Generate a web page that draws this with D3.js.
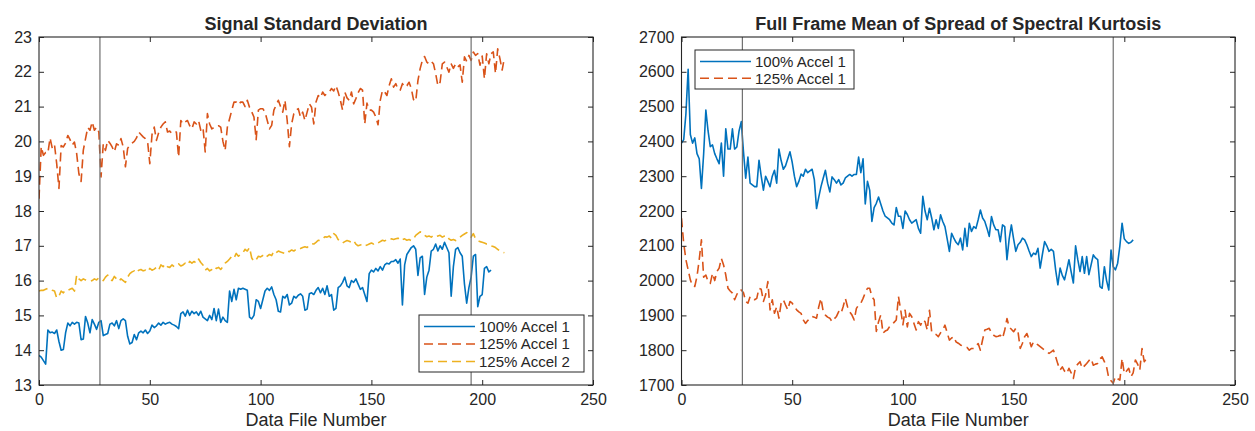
<!DOCTYPE html>
<html>
<head>
<meta charset="utf-8">
<script src="https://cdn.jsdelivr.net/npm/d3@7"></script>
<style>
    body { margin: 0; background: #fff; }
    text { font-family: "Liberation Sans", Arial, Helvetica, sans-serif; fill: #262626; }
</style>
</head>
<body>
<svg id="chart" width="1255" height="431"></svg>
<script>
const std100Accel1 = [
    13.85, 13.80, 13.70, 13.60, 14.58, 14.50, 14.52, 14.48, 14.58, 14.25,
    14.00, 14.02, 14.50, 14.78, 14.70, 14.80, 14.75, 14.80, 14.78, 14.30,
    14.32, 14.97, 14.78, 14.50, 14.88, 14.75, 14.60, 14.80, 14.85, 14.42,
    14.45, 14.48, 14.75, 14.78, 14.70, 14.85, 14.62, 14.85, 14.90, 14.85,
    14.40, 14.18, 14.22, 14.45, 14.30, 14.50, 14.55, 14.50, 14.58, 14.48,
    14.55, 14.72, 14.65, 14.70, 14.78, 14.72, 14.80, 14.75, 14.78, 14.80,
    14.75, 14.72, 14.68, 14.62, 15.05, 15.10, 14.98, 15.15, 15.00, 15.12,
    15.05, 15.10, 15.00, 15.12, 14.95, 14.90, 14.85, 15.00, 14.88, 15.20,
    14.85, 15.18, 14.80, 14.95, 14.85, 14.80, 15.70, 15.40, 15.75, 15.45,
    15.78, 15.75, 15.78, 15.75, 15.72, 14.95, 14.90, 15.00, 15.45, 15.40,
    15.20, 15.45, 15.70, 15.78, 15.72, 15.82, 15.60, 15.45, 15.12, 15.10,
    15.55, 15.50, 15.60, 15.30, 15.35, 15.55, 15.50, 15.58, 15.62, 15.55,
    15.15, 15.18, 15.62, 15.65, 15.60, 15.72, 15.80, 15.65, 15.78, 15.60,
    15.85, 15.55, 15.60, 15.15, 15.20, 15.80, 15.85, 15.95, 16.10, 15.85,
    15.80, 16.00, 15.95, 16.05, 15.90, 15.75, 15.80, 15.60, 15.40, 16.20,
    16.30, 16.25, 16.35, 16.28, 16.40, 16.30, 16.45, 16.50, 16.48, 16.55,
    16.55, 16.60, 16.50, 16.62, 15.30, 16.45, 16.75, 16.85, 16.95, 17.00,
    16.90, 16.15, 16.65, 16.70, 15.60, 16.10, 16.30, 16.85, 16.90, 17.05,
    16.85, 17.00, 16.90, 17.10, 16.95, 16.80, 15.55, 16.40, 16.90, 16.95,
    16.80, 16.70, 15.90, 15.35, 15.80, 16.10, 16.70, 16.75, 15.25, 15.55,
    15.60, 16.35, 16.40, 16.25, 16.30
];

const std125Accel1 = [
    18.35, 19.85, 19.60, 19.68, 19.66, 20.10, 19.80, 19.90, 19.35, 18.65,
    19.88, 19.84, 19.95, 20.17, 20.05, 19.90, 19.98, 19.65, 19.07, 18.85,
    19.75, 20.08, 20.40, 20.32, 20.56, 20.32, 20.41, 20.27, 18.98, 19.93,
    19.74, 20.03, 19.95, 19.84, 19.70, 19.93, 19.89, 20.08, 19.84, 19.27,
    19.80, 19.90, 19.95, 20.00, 20.10, 20.27, 20.20, 20.13, 20.08, 20.00,
    19.36, 20.20, 20.41, 20.03, 20.25, 20.41, 20.50, 20.56, 20.27, 20.30,
    20.22, 20.25, 20.27, 19.55, 20.60, 20.50, 20.56, 20.60, 20.45, 20.36,
    20.56, 20.50, 20.60, 20.32, 20.40, 19.70, 20.80, 20.50, 20.36, 20.40,
    20.41, 20.45, 20.41, 20.00, 19.74, 20.41, 20.65, 20.90, 21.13, 21.13,
    21.05, 21.13, 21.13, 21.00, 21.18, 20.98, 20.85, 20.70, 20.05, 20.90,
    20.94, 20.94, 20.84, 20.60, 20.36, 20.46, 20.90, 21.04, 21.18, 21.00,
    20.84, 21.18, 20.60, 19.85, 20.50, 20.80, 20.90, 20.94, 20.70, 20.84,
    20.60, 20.84, 21.08, 20.98, 20.50, 21.13, 21.32, 21.25, 21.42, 21.32,
    21.38, 21.42, 21.52, 21.45, 21.60, 21.42, 21.18, 20.90, 21.42, 21.25,
    21.18, 21.42, 21.08, 21.23, 21.40, 21.52, 21.47, 20.50, 21.10, 20.90,
    20.90, 20.84, 20.70, 20.48, 21.18, 21.47, 21.42, 21.32, 21.60, 21.80,
    21.56, 21.66, 21.50, 21.47, 21.66, 21.56, 21.60, 21.70, 21.52, 21.20,
    21.15, 21.75, 22.09, 22.33, 22.44, 22.28, 22.23, 22.30, 22.23, 21.95,
    21.60, 21.70, 22.23, 22.28, 22.14, 21.99, 22.23, 22.10, 22.23, 22.14,
    22.20, 21.70, 22.43, 22.30, 22.47, 22.33, 22.57, 22.47, 22.52, 22.19,
    22.45, 21.80, 22.52, 22.23, 22.52, 22.57, 21.95, 22.66, 22.38, 22.05,
    22.40
];

const std125Accel2 = [
    15.70, 15.72, 15.72, 15.75, 15.78, 15.77, 15.72, 15.70, 15.50, 15.55,
    15.70, 15.65, 15.73, 15.72, 15.75, 15.78, 15.70, 16.16, 16.05, 16.00,
    16.05, 16.02, 16.00, 15.98, 16.00, 16.05, 16.02, 16.08, 16.05, 16.00,
    16.10, 16.16, 16.05, 16.00, 16.12, 16.05, 15.98, 16.05, 16.00, 15.95,
    16.10, 16.20, 16.25, 16.28, 16.22, 16.30, 16.32, 16.28, 16.30, 16.25,
    16.35, 16.30, 16.33, 16.38, 16.30, 16.45, 16.40, 16.48, 16.40, 16.38,
    16.45, 16.40, 16.43, 16.48, 16.42, 16.45, 16.50, 16.45, 16.55, 16.50,
    16.55, 16.50, 16.62, 16.52, 16.45, 16.30, 16.35, 16.28, 16.32, 16.40,
    16.35, 16.38, 16.32, 16.40, 16.50, 16.55, 16.62, 16.70, 16.65, 16.78,
    16.70, 16.75, 16.80, 16.90, 16.85, 16.95, 16.65, 16.55, 16.60, 16.70,
    16.68, 16.72, 16.65, 16.70, 16.75, 16.72, 16.85, 16.80, 16.85, 16.82,
    16.80, 16.78, 16.85, 16.83, 16.88, 16.85, 16.90, 16.88, 16.92, 16.95,
    16.97, 16.95, 17.02, 17.06, 17.05, 17.10, 17.16, 17.15, 17.20, 17.26,
    17.25, 17.28, 17.22, 17.35, 17.30, 17.18, 17.10, 17.08, 17.12, 17.15,
    17.13, 17.10, 17.15, 17.05, 17.00, 17.02, 17.05, 17.00, 17.02, 17.05,
    17.08, 17.05, 17.10, 17.08, 17.12, 17.16, 17.14, 17.18, 17.16, 17.20,
    17.18, 17.20, 17.22, 17.15, 17.18, 17.20, 17.16, 17.18, 17.15, 17.20,
    17.30, 17.35, 17.40, 17.38, 17.30, 17.26, 17.28, 17.25, 17.30, 17.26,
    17.28, 17.30, 17.25, 17.28, 17.30, 17.20, 17.16, 17.18, 17.15, 17.20,
    17.25, 17.30, 17.34, 17.38, 17.30, 17.25, 17.35, 17.20, 17.15, 17.12,
    17.10, 17.08, 17.05, 17.05, 17.00, 16.98, 16.95, 16.90, 16.85, 16.82,
    16.80
];

const sk100Accel1 = [
    2395, 2405, 2480, 2607, 2420, 2395, 2410, 2365, 2350, 2265,
    2364, 2490, 2430, 2385, 2390, 2365, 2350, 2336, 2395, 2300,
    2436, 2378, 2378, 2436, 2378, 2384, 2430, 2457, 2370, 2294,
    2355, 2280, 2275, 2270, 2270, 2346, 2300, 2260, 2300, 2285,
    2270, 2300, 2317, 2280, 2378, 2345, 2320, 2330, 2350, 2370,
    2340, 2300, 2270, 2285, 2306, 2300, 2320, 2310, 2315, 2320,
    2290, 2207, 2240, 2270, 2294, 2317, 2280, 2255, 2298, 2290,
    2280, 2290, 2275, 2280, 2295, 2300, 2305, 2300, 2305, 2305,
    2355, 2310, 2350, 2220, 2285, 2260, 2170, 2210, 2222, 2240,
    2220, 2200, 2185, 2180, 2175, 2165, 2160, 2210, 2185, 2185,
    2150, 2200, 2190, 2175, 2165, 2170, 2175, 2150, 2136, 2242,
    2200, 2175, 2208, 2180, 2146, 2175, 2150, 2189, 2170, 2155,
    2120, 2084, 2136, 2122, 2110, 2103, 2122, 2088, 2150, 2098,
    2165, 2141, 2155, 2150, 2175, 2203, 2180, 2170, 2150, 2127,
    2184, 2160, 2146, 2146, 2112, 2160, 2155, 2060, 2120, 2160,
    2120, 2084, 2103, 2110, 2122, 2117, 2103, 2085, 2069, 2079,
    2075, 2093, 2036, 2075, 2112, 2100, 2084, 2090, 2084, 2030,
    1988, 2036, 2015, 2002, 2030, 2060, 2025, 1993, 2100, 2060,
    2026, 2069, 2021, 2069, 2017, 2045, 2074, 2065, 2060, 1983,
    1978, 2040, 2000, 1973, 2088, 2040, 2031, 2050, 2100, 2165,
    2120, 2112, 2107, 2110, 2117
];

const sk125Accel1 = [
    2179, 2107, 2060, 2031, 2002, 1985, 1983, 2012, 2060, 2117,
    2010, 2016, 1997, 1992, 2021, 2000, 2026, 2036, 2064, 2045,
    2016, 1978, 1970, 1964, 1945, 1960, 1973, 1973, 1965, 1940,
    1935, 1954, 1949, 1945, 1949, 1978, 1975, 1940, 1959, 1997,
    1916, 1945, 1906, 1925, 1892, 1935, 1945, 1930, 1916, 1940,
    1935, 1925, 1916, 1910, 1906, 1887, 1877, 1885, 1892, 1897,
    1895, 1892, 1925, 1949, 1911, 1901, 1895, 1892, 1882, 1890,
    1897, 1911, 1905, 1925, 1949, 1925, 1910, 1901, 1887, 1920,
    1930, 1935, 1949, 1965, 1978, 1978, 1954, 1945, 1854, 1882,
    1901, 1849, 1855, 1858, 1868, 1873, 1880, 1887, 1954, 1916,
    1873, 1915, 1867, 1906, 1896, 1877, 1858, 1882, 1872, 1887,
    1882, 1858, 1915, 1853, 1848, 1845, 1839, 1850, 1858, 1872,
    1850, 1829, 1835, 1839, 1824, 1820, 1815, 1812, 1810, 1808,
    1800, 1805, 1805, 1812, 1819, 1800, 1830, 1858, 1860, 1863,
    1850, 1843, 1839, 1840, 1843, 1834, 1858, 1891, 1867, 1860,
    1853, 1863, 1853, 1805, 1820, 1839, 1848, 1830, 1810, 1824,
    1820, 1815, 1810, 1805, 1800, 1795, 1791, 1795, 1800, 1781,
    1760, 1743, 1752, 1740, 1733, 1748, 1735, 1719, 1752, 1760,
    1767, 1748, 1755, 1762, 1770, 1776, 1757, 1760, 1762, 1775,
    1781, 1767, 1752, 1719, 1712, 1705, 1724, 1718, 1714, 1776,
    1733, 1740, 1748, 1724, 1735, 1772, 1760, 1743, 1805, 1767,
    1775
];

const markerFiles = [27.5, 195];
const xTickValues = [0, 50, 100, 150, 200, 250];
const stdTickValues = [13, 14, 15, 16, 17, 18, 19, 20, 21, 22, 23];
const skTickValues = [1700, 1800, 1900, 2000, 2100, 2200, 2300, 2400, 2500, 2600, 2700];
const stdLegend = ["100% Accel 1", "125% Accel 1", "125% Accel 2"];
const skLegend = ["100% Accel 1", "125% Accel 1"];

const blue = "#0072BD", orange = "#D95319", yellow = "#EDB120";
const axisColor = "#262626";

const svg = d3.select("#chart");
const plotTop = 37, plotBottom = 385;

function drawPanel(cfg) {
    const x = d3.scaleLinear().domain([0, 250]).range([cfg.left, cfg.right]);
    const y = d3.scaleLinear().domain(cfg.yDomain).range([plotBottom, plotTop]);
    const g = svg.append("g");

    g.append("clipPath").attr("id", cfg.id + "-clip")
        .append("rect")
        .attr("x", cfg.left).attr("y", plotTop)
        .attr("width", cfg.right - cfg.left).attr("height", plotBottom - plotTop);

    const plot = g.append("g").attr("clip-path", `url(#${cfg.id}-clip)`);

    const line = d3.line()
        .x((d, i) => x(i))
        .y(d => y(d));

    cfg.series.forEach(s => {
        plot.append("path")
            .datum(s.values)
            .attr("fill", "none")
            .attr("stroke", s.color)
            .attr("stroke-width", 1.6)
            .attr("stroke-linejoin", "round")
            .attr("stroke-dasharray", s.dash ? "9,5" : null)
            .attr("d", line);
    });

    // the two reference file markers
    plot.selectAll(".marker")
        .data(markerFiles)
        .enter().append("line")
        .attr("x1", d => x(d)).attr("x2", d => x(d))
        .attr("y1", plotTop).attr("y2", plotBottom)
        .attr("stroke", "#707070")
        .attr("stroke-width", 1.2);

    // axes, ticks pointing inwards on all four sides
    const styleAxis = sel => {
        sel.select(".domain").remove();
        sel.selectAll(".tick line").attr("stroke", axisColor).attr("stroke-width", 1);
        sel.selectAll(".tick text")
            .attr("fill", axisColor)
            .style("font-family", '"Liberation Sans", Arial, sans-serif')
            .style("font-size", "16px");
    };

    const fmt = d3.format("d");

    g.append("g").attr("transform", `translate(0,${plotBottom})`)
        .call(d3.axisBottom(x).tickValues(xTickValues).tickFormat(fmt).tickSizeInner(-5).tickSizeOuter(0).tickPadding(9))
        .call(styleAxis);
    g.append("g").attr("transform", `translate(0,${plotTop})`)
        .call(d3.axisTop(x).tickValues(xTickValues).tickSizeInner(-5).tickSizeOuter(0).tickFormat(""))
        .call(styleAxis);
    g.append("g").attr("transform", `translate(${cfg.left},0)`)
        .call(d3.axisLeft(y).tickValues(cfg.yTicks).tickFormat(fmt).tickSizeInner(-5).tickSizeOuter(0).tickPadding(7))
        .call(styleAxis);
    g.append("g").attr("transform", `translate(${cfg.right},0)`)
        .call(d3.axisRight(y).tickValues(cfg.yTicks).tickSizeInner(-5).tickSizeOuter(0).tickFormat(""))
        .call(styleAxis);

    g.append("rect")
        .attr("x", cfg.left).attr("y", plotTop)
        .attr("width", cfg.right - cfg.left).attr("height", plotBottom - plotTop)
        .attr("fill", "none")
        .attr("stroke", axisColor)
        .attr("stroke-width", 1.1);

    g.append("text")
        .attr("x", (cfg.left + cfg.right) / 2)
        .attr("y", 30)
        .attr("text-anchor", "middle")
        .style("font-size", "18px")
        .style("font-weight", "bold")
        .text(cfg.title);

    g.append("text")
        .attr("x", (cfg.left + cfg.right) / 2)
        .attr("y", 426)
        .attr("text-anchor", "middle")
        .style("font-size", "18px")
        .text("Data File Number");

    // legend
    const lg = g.append("g").attr("transform", `translate(${cfg.legend.x},${cfg.legend.y})`);
    lg.append("rect")
        .attr("width", cfg.legend.w)
        .attr("height", cfg.legend.h)
        .attr("fill", "#fff")
        .attr("stroke", axisColor)
        .attr("stroke-width", 1);
    cfg.legendLabels.forEach((label, i) => {
        const s = cfg.series[i];
        const ry = 11.5 + i * cfg.legend.step;
        lg.append("line")
            .attr("x1", 5).attr("x2", 56)
            .attr("y1", ry).attr("y2", ry)
            .attr("stroke", s.color)
            .attr("stroke-width", 1.6)
            .attr("stroke-dasharray", s.dash ? "9,5" : null);
        lg.append("text")
            .attr("x", 60)
            .attr("y", ry + 5.3)
            .style("font-size", "15px")
            .text(label);
    });
}

drawPanel({
    id: "std",
    left: 39, right: 593,
    yDomain: [13, 23],
    yTicks: stdTickValues,
    title: "Signal Standard Deviation",
    series: [
        { values: std100Accel1, color: blue, dash: false },
        { values: std125Accel1, color: orange, dash: true },
        { values: std125Accel2, color: yellow, dash: true }
    ],
    legendLabels: stdLegend,
    legend: { x: 419, y: 315, w: 165, h: 57, step: 17.5 }
});

drawPanel({
    id: "sk",
    left: 681.5, right: 1235,
    yDomain: [1700, 2700],
    yTicks: skTickValues,
    title: "Full Frame Mean of Spread of Spectral Kurtosis",
    series: [
        { values: sk100Accel1, color: blue, dash: false },
        { values: sk125Accel1, color: orange, dash: true }
    ],
    legendLabels: skLegend,
    legend: { x: 695, y: 50, w: 159, h: 39, step: 16.8 }
});
</script>
</body>
</html>
